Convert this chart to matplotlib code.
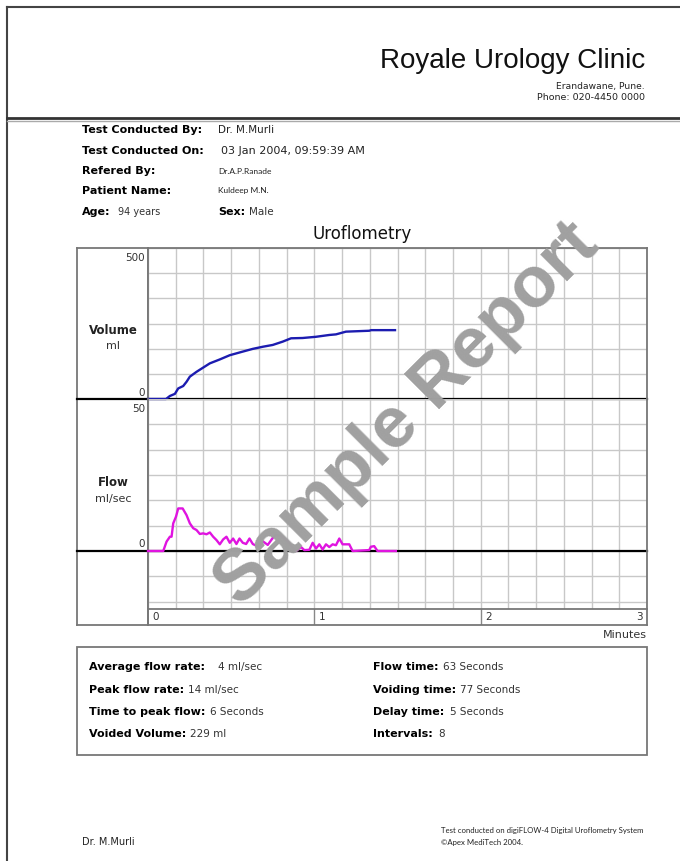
import matplotlib.pyplot as plt
from matplotlib.patches import Rectangle
import numpy as np

# uroflometry data (time in seconds)
vol_t = [0, 6.5, 7.9, 9.7, 10.9, 12.7, 13.9, 15.1, 17.5, 19.9, 22.3, 25.9, 29.5, 34.2,
         37.8, 41.4, 45.0, 48.6, 51.6, 55.8, 60.6, 65.4, 67.8, 71.4, 79.8, 80.5, 89.1]
vol_ml = [0, 0, 10, 17, 35, 43, 57, 74, 90, 104, 118, 131, 145, 157,
          166, 173, 179, 190, 201, 202, 206, 212, 214, 223, 226, 228, 228]

flow_t = [0, 5.5, 6.7, 7.9, 8.5, 9.1, 10.1, 10.9, 12.5, 13.9, 15.1, 16.3, 17.5, 18.7, 19.9,
          21.1, 22.3, 23.5, 24.7, 25.9, 27.1, 28.3, 29.5, 30.7, 31.9, 33.0, 34.2, 35.4, 36.6,
          37.8, 39.6, 41.4, 43.2, 45.0, 46.2, 48.0, 49.8, 51.0, 52.2, 53.4, 55.2, 56.4, 58.2,
          59.4, 60.6, 61.8, 63.0, 64.2, 65.4, 66.6, 67.8, 69.0, 70.2, 72.6, 73.8, 79.8, 80.4,
          81.6, 82.8, 89.4]
flow_ml = [0, 0, 3.1, 4.7, 4.7, 9.1, 11.3, 14.0, 14.0, 11.8, 9.1, 7.5, 6.9, 5.6, 5.8,
           5.5, 6.1, 4.7, 3.6, 2.2, 3.8, 4.7, 2.7, 4.1, 2.3, 4.1, 2.7, 2.3, 4.1,
           2.3, 1.5, 3.2, 2.0, 4.3, 5.3, 4.9, 3.6, 2.5, 1.0, 0, 1.3, 0.3, 0.4,
           2.7, 0.8, 2.2, 0.5, 2.2, 1.3, 2.2, 1.9, 4.1, 2.2, 2.2, 0, 0.3, 1.4,
           1.6, 0, 0]

minute_labels = ['0', '1', '2', '3']

info_labels = ['Test Conducted By:', 'Test Conducted On:', 'Refered By:', 'Patient Name:']
info_values = ['Dr. M.Murli', '03 Jan 2004, 09:59:39 AM', 'Dr.A.P.Ranade', 'Kuldeep M.N.']

stats_left = [('Average flow rate:', '4 ml/sec'), ('Peak flow rate:', '14 ml/sec'),
              ('Time to peak flow:', '6 Seconds'), ('Voided Volume:', '229 ml')]
stats_right = [('Flow time:', '63 Seconds'), ('Voiding time:', '77 Seconds'),
               ('Delay time:', '5 Seconds'), ('Intervals:', '8')]

W, H = 680, 861
fig = plt.figure(figsize=(W / 100, H / 100), dpi=100)

# overlay axes in pixel coordinates for the page layout
ov = fig.add_axes([0, 0, 1, 1])
ov.set_xlim(0, W)
ov.set_ylim(H, 0)
ov.axis('off')


def box(x0, y0, x1, y1):
    return [x0 / W, 1 - y1 / H, (x1 - x0) / W, (y1 - y0) / H]


# page border and header
ov.plot([7, 7], [7, H], color='#444444', lw=1.5)
ov.plot([7, W], [7, 7], color='#444444', lw=1.5)
ov.plot([7, W], [118, 118], color='#333333', lw=2)
ov.plot([7, W], [121, 121], color='#aaaaaa', lw=1)

ov.text(645, 61, 'Royale Urology Clinic', ha='right', va='center', fontsize=20,
        family='Liberation Sans', color='#111111')
ov.text(645, 86, 'Erandawane, Pune.', ha='right', va='center', fontsize=6.6, color='#222222')
ov.text(645, 98, 'Phone: 020-4450 0000', ha='right', va='center', fontsize=6.8, color='#222222')

# patient info
rows_y = [130, 151, 171, 191, 212]
val_x = [218, 221, 218, 218]
val_size = [7.5, 8, 6, 6]
for i, (lab, val) in enumerate(zip(info_labels, info_values)):
    ov.text(82, rows_y[i], lab, ha='left', va='center', fontsize=8, weight='bold')
    fam = 'DejaVu Sans' if i < 2 else 'Lato'
    ov.text(val_x[i], rows_y[i], val, ha='left', va='center', fontsize=val_size[i],
            family=fam, color='#222222')
ov.text(82, 212, 'Age:', ha='left', va='center', fontsize=8, weight='bold')
ov.text(118, 212, '94 years', ha='left', va='center', fontsize=7, color='#333333')
ov.text(218, 212, 'Sex:', ha='left', va='center', fontsize=8, weight='bold')
ov.text(249, 212, 'Male', ha='left', va='center', fontsize=7.5, color='#333333')

ov.text(362, 234, 'Uroflometry', ha='center', va='center', fontsize=12, color='#111111')

# chart frames
grid_kw = dict(color='#c8c8c8', lw=1)
frame = '#777777'

ax_lab = fig.add_axes(box(77, 248, 148, 625))
ax_lab.set_facecolor('none')
ax_lab.set_xticks([])
ax_lab.set_yticks([])
for s in ax_lab.spines.values():
    s.set_color(frame)
    s.set_linewidth(1.3)

ax_v = fig.add_axes(box(148, 248, 647, 399))
ax_f = fig.add_axes(box(148, 399, 647, 609))
ax_m = fig.add_axes(box(148, 609, 647, 625))

ax_v.set_ylim(0, 500)
ax_v.set_yticks(np.linspace(0, 500, 7))
ax_f.set_ylim(-58 / 152 * 50, 50)
ax_f.set_yticks(np.arange(-2, 7) * 50 / 6)
for ax in (ax_v, ax_f, ax_m):
    ax.set_facecolor('none')
    ax.set_xlim(0, 180)
    ax.tick_params(length=0, labelbottom=False, labelleft=False)
    for s in ax.spines.values():
        s.set_color(frame)
        s.set_linewidth(1.3)
for ax in (ax_v, ax_f):
    ax.set_xticks(np.arange(0, 181, 10))
    ax.grid(True, **grid_kw)
    ax.set_axisbelow(True)
    ax.spines['bottom'].set_visible(False)
ax_f.spines['top'].set_visible(False)
ax_m.set_xticks([])
ax_m.set_yticks([])
ax_m.set_ylim(0, 1)

# baselines spanning label column too
ext = -71 / 499
ax_v.axhline(0, xmin=ext, xmax=1, clip_on=False, color='black', lw=1.6, zorder=2)
ax_f.axhline(0, xmin=ext, xmax=1, clip_on=False, color='black', lw=1.6, zorder=2)

ax_v.plot(vol_t, vol_ml, color='#1c1cb0', lw=1.7, zorder=3, clip_on=False)
ax_f.plot(flow_t, flow_ml, color='#e014e0', lw=1.7, zorder=3, clip_on=False)

# minutes band
for i, lab in enumerate(minute_labels):
    x = i * 60
    if 0 < x < 180:
        ax_m.axvline(x, color='#888888', lw=1)
    if i < len(minute_labels) - 1:
        ax_m.annotate(lab, xy=(x, 0.5), xytext=(3, 0), textcoords='offset points',
                      ha='left', va='center', fontsize=7.5, color='#333333')
    else:
        ax_m.annotate(lab, xy=(x, 0.5), xytext=(-3, 0), textcoords='offset points',
                      ha='right', va='center', fontsize=7.5, color='#333333')
ov.text(647, 635, 'Minutes', ha='right', va='center', fontsize=8, color='#333333')

# axis labels in left column
lab_kw = dict(fontsize=7.5, color='#333333', va='center')
ov.text(145, 258, '500', ha='right', **lab_kw)
ov.text(145, 393, '0', ha='right', **lab_kw)
ov.text(113, 331, 'Volume', ha='center', va='center', fontsize=8.5, weight='bold', color='#222222')
ov.text(113, 346, 'ml', ha='center', fontsize=8, color='#333333', va='center')
ov.text(145, 409, '50', ha='right', **lab_kw)
ov.text(145, 544, '0', ha='right', **lab_kw)
ov.text(113, 482, 'Flow', ha='center', va='center', fontsize=8.5, weight='bold', color='#222222')
ov.text(113, 499, 'ml/sec', ha='center', fontsize=8, color='#333333', va='center')

# results box
ov.add_patch(Rectangle((77, 647), 570, 108, fill=False, ec=frame, lw=1.3))
stat_y = [666, 689, 711, 733]
gaps_left = [9, 3, 3, 3]
gaps_right = [3, 3, 4, 4]
for col_x, items, gaps in ((89, stats_left, gaps_left), (373, stats_right, gaps_right)):
    for y, (lab, val), g in zip(stat_y, items, gaps):
        t = ov.text(col_x, y + 4, lab, ha='left', va='baseline', fontsize=8, weight='bold')
        ov.annotate(val, xy=(1, 0), xycoords=t, xytext=(g, 0), textcoords='offset points',
                    ha='left', va='bottom', fontsize=7.5, color='#333333')

# footer
ov.text(82, 842, 'Dr. M.Murli', ha='left', va='center', fontsize=7, color='#222222')
ov.text(441, 830, 'Test conducted on digiFLOW-4 Digital Uroflometry System', ha='left',
        va='center', fontsize=5.6, family='Lato', color='#222222')
ov.text(441, 842, '\u00a9Apex MediTech 2004.', ha='left', va='center', fontsize=5.6,
        family='Lato', color='#222222')

# watermark
fig.text(407 / W, 1 - 415 / H, 'Sample Report', rotation=45, rotation_mode='anchor',
         ha='center', va='center', fontsize=52, weight='bold', family='Liberation Sans',
         color='#a0a0a0', zorder=10)

fig.savefig('out.png', dpi=100)
